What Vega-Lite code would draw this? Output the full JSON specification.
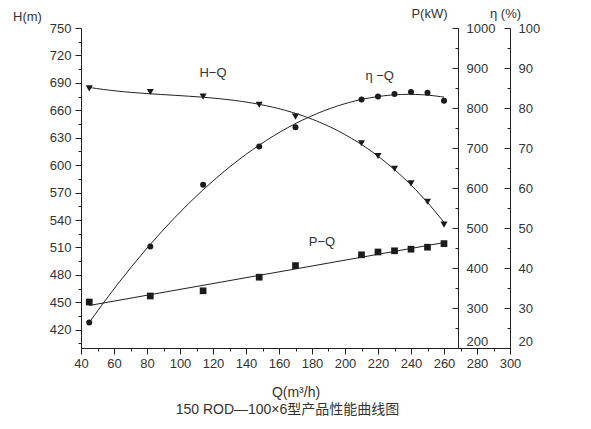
{
  "$schema": "https://vega.github.io/schema/vega-lite/v6.json",
  "width": 429,
  "height": 320,
  "autosize": {"type": "none"},
  "padding": {"left": 81, "top": 28, "right": 81, "bottom": 81},
  "background": "white",
  "config": {
    "view": {"stroke": null},
    "font": "Liberation Sans",
    "axis": {"labelFont": "Liberation Sans", "labelFontSize": 13, "labelColor": "#333", "domainColor": "#222", "tickColor": "#222", "grid": false, "labelFlush": false, "titleFont": "Liberation Sans", "titleFontWeight": "normal", "titleFontSize": 13, "titleColor": "#333"}
  },
  "title": {"text": "150 ROD—100×6型产品性能曲线图", "orient": "bottom", "anchor": "middle", "font": "Liberation Sans, Noto Sans CJK SC", "fontSize": 14, "fontWeight": "normal", "color": "#333", "offset": 4, "dx": -8},
  "data": {"values": [
    {"Q": 45, "H": 684, "P": 315, "eta": 26.4},
    {"Q": 82, "H": 680, "P": 330, "eta": 45.4},
    {"Q": 114, "H": 675, "P": 343, "eta": 60.8},
    {"Q": 148, "H": 666, "P": 377, "eta": 70.4},
    {"Q": 170, "H": 653, "P": 406, "eta": 75.2},
    {"Q": 210, "H": 624, "P": 433, "eta": 82.1},
    {"Q": 220, "H": 610, "P": 440, "eta": 82.9},
    {"Q": 230, "H": 596, "P": 443, "eta": 83.5},
    {"Q": 240, "H": 580, "P": 447, "eta": 84.0},
    {"Q": 250, "H": 560, "P": 452, "eta": 83.8},
    {"Q": 260, "H": 535, "P": 461, "eta": 81.8}
  ]},
  "resolve": {"scale": {"y": "independent", "x": "independent"}, "axis": {"y": "independent", "x": "independent"}},
  "layer": [
    {
      "mark": {"type": "point", "shape": "triangle-down", "filled": true, "size": 50, "color": "#1a1a1a", "opacity": 1},
      "encoding": {
        "x": {"field": "Q", "type": "quantitative", "scale": {"domain": [40, 300], "nice": false, "zero": false},
          "axis": {"orient": "bottom", "values": [40, 60, 80, 100, 120, 140, 160, 180, 200, 220, 240, 260, 280, 300], "tickSize": 6, "labelPadding": 3, "title": "Q(m³/h)", "titleFontSize": 14, "titlePadding": 15}},
        "y": {"field": "H", "type": "quantitative", "scale": {"domain": [400, 750], "nice": false, "zero": false},
          "axis": {"orient": "left", "values": [420, 450, 480, 510, 540, 570, 600, 630, 660, 690, 720, 750], "tickSize": 6, "labelPadding": 4,
            "title": "H(m)", "titleAngle": 0, "titleAlign": "center", "titleBaseline": "middle", "titleX": -54, "titleY": -12}}
      }
    },
    {
      "transform": [{"regression": "H", "on": "Q", "method": "poly", "order": 3}],
      "mark": {"type": "line", "color": "#222", "strokeWidth": 1},
      "encoding": {
        "x": {"field": "Q", "type": "quantitative", "scale": {"domain": [40, 300], "nice": false, "zero": false},
          "axis": {"orient": "bottom", "values": [50, 70, 90, 110, 130, 150, 170, 190, 210, 230, 250, 270, 290], "tickSize": 3, "labels": false, "domain": false, "title": null}},
        "y": {"field": "H", "type": "quantitative", "scale": {"domain": [400, 750], "nice": false, "zero": false},
          "axis": {"orient": "left", "values": [405, 435, 465, 495, 525, 555, 585, 615, 645, 675, 705, 735], "tickSize": 3, "labels": false, "domain": false, "title": null}}
      }
    },
    {
      "mark": {"type": "point", "shape": "circle", "filled": true, "size": 36, "color": "#1a1a1a", "opacity": 1},
      "encoding": {
        "x": {"field": "Q", "type": "quantitative", "scale": {"domain": [40, 300], "nice": false, "zero": false}, "axis": null},
        "y": {"field": "eta", "type": "quantitative", "scale": {"domain": [20, 100], "nice": false, "zero": false},
          "axis": {"orient": "right", "values": [20, 30, 40, 50, 60, 70, 80, 90, 100], "format": "d", "tickSize": -6, "labelPadding": 14,
            "labelBaseline": {"condition": {"test": "datum.value == 20", "value": "bottom"}, "value": "middle"},
            "title": "η (%)", "titleAngle": 0, "titleAlign": "center", "titleBaseline": "middle", "titleX": -5, "titleY": -15}}
      }
    },
    {
      "transform": [{"regression": "eta", "on": "Q", "method": "poly", "order": 3}],
      "mark": {"type": "line", "color": "#222", "strokeWidth": 1},
      "encoding": {
        "x": {"field": "Q", "type": "quantitative", "scale": {"domain": [40, 300], "nice": false, "zero": false}, "axis": null},
        "y": {"field": "eta", "type": "quantitative", "scale": {"domain": [20, 100], "nice": false, "zero": false},
          "axis": {"orient": "right", "values": [25, 35, 45, 55, 65, 75, 85, 95], "tickSize": -3, "labels": false, "domain": false, "title": null}}
      }
    },
    {
      "mark": {"type": "point", "shape": "square", "filled": true, "size": 45, "color": "#1a1a1a", "opacity": 1},
      "encoding": {
        "x": {"field": "Q", "type": "quantitative", "scale": {"domain": [40, 300], "nice": false, "zero": false}, "axis": null},
        "y": {"field": "P", "type": "quantitative", "scale": {"domain": [200, 1000], "nice": false, "zero": false},
          "axis": {"orient": "right", "offset": -52, "values": [200, 300, 400, 500, 600, 700, 800, 900, 1000], "format": "d", "tickSize": -6, "labelPadding": 14,
            "labelBaseline": {"condition": {"test": "datum.value == 200", "value": "bottom"}, "value": "middle"},
            "title": "P(kW)", "titleAngle": 0, "titleAlign": "center", "titleBaseline": "middle", "titleX": -29, "titleY": -15}}
      }
    },
    {
      "transform": [{"regression": "P", "on": "Q", "method": "linear"}],
      "mark": {"type": "line", "color": "#222", "strokeWidth": 1},
      "encoding": {
        "x": {"field": "Q", "type": "quantitative", "scale": {"domain": [40, 300], "nice": false, "zero": false}, "axis": null},
        "y": {"field": "P", "type": "quantitative", "scale": {"domain": [200, 1000], "nice": false, "zero": false},
          "axis": {"orient": "right", "offset": -52, "values": [250, 350, 450, 550, 650, 750, 850, 950], "tickSize": -3, "labels": false, "domain": false, "title": null}}
      }
    },
    {
      "data": {"values": [{"label": "H−Q", "Q": 120, "H": 701}, {"label": "η −Q", "Q": 221, "H": 697}, {"label": "P−Q", "Q": 186, "H": 516}]},
      "mark": {"type": "text", "fontSize": 13, "color": "#333", "font": "Liberation Sans"},
      "encoding": {
        "x": {"field": "Q", "type": "quantitative", "scale": {"domain": [40, 300], "nice": false, "zero": false}, "axis": null},
        "y": {"field": "H", "type": "quantitative", "scale": {"domain": [400, 750], "nice": false, "zero": false}, "axis": null},
        "text": {"field": "label"}
      }
    }
  ]
}
